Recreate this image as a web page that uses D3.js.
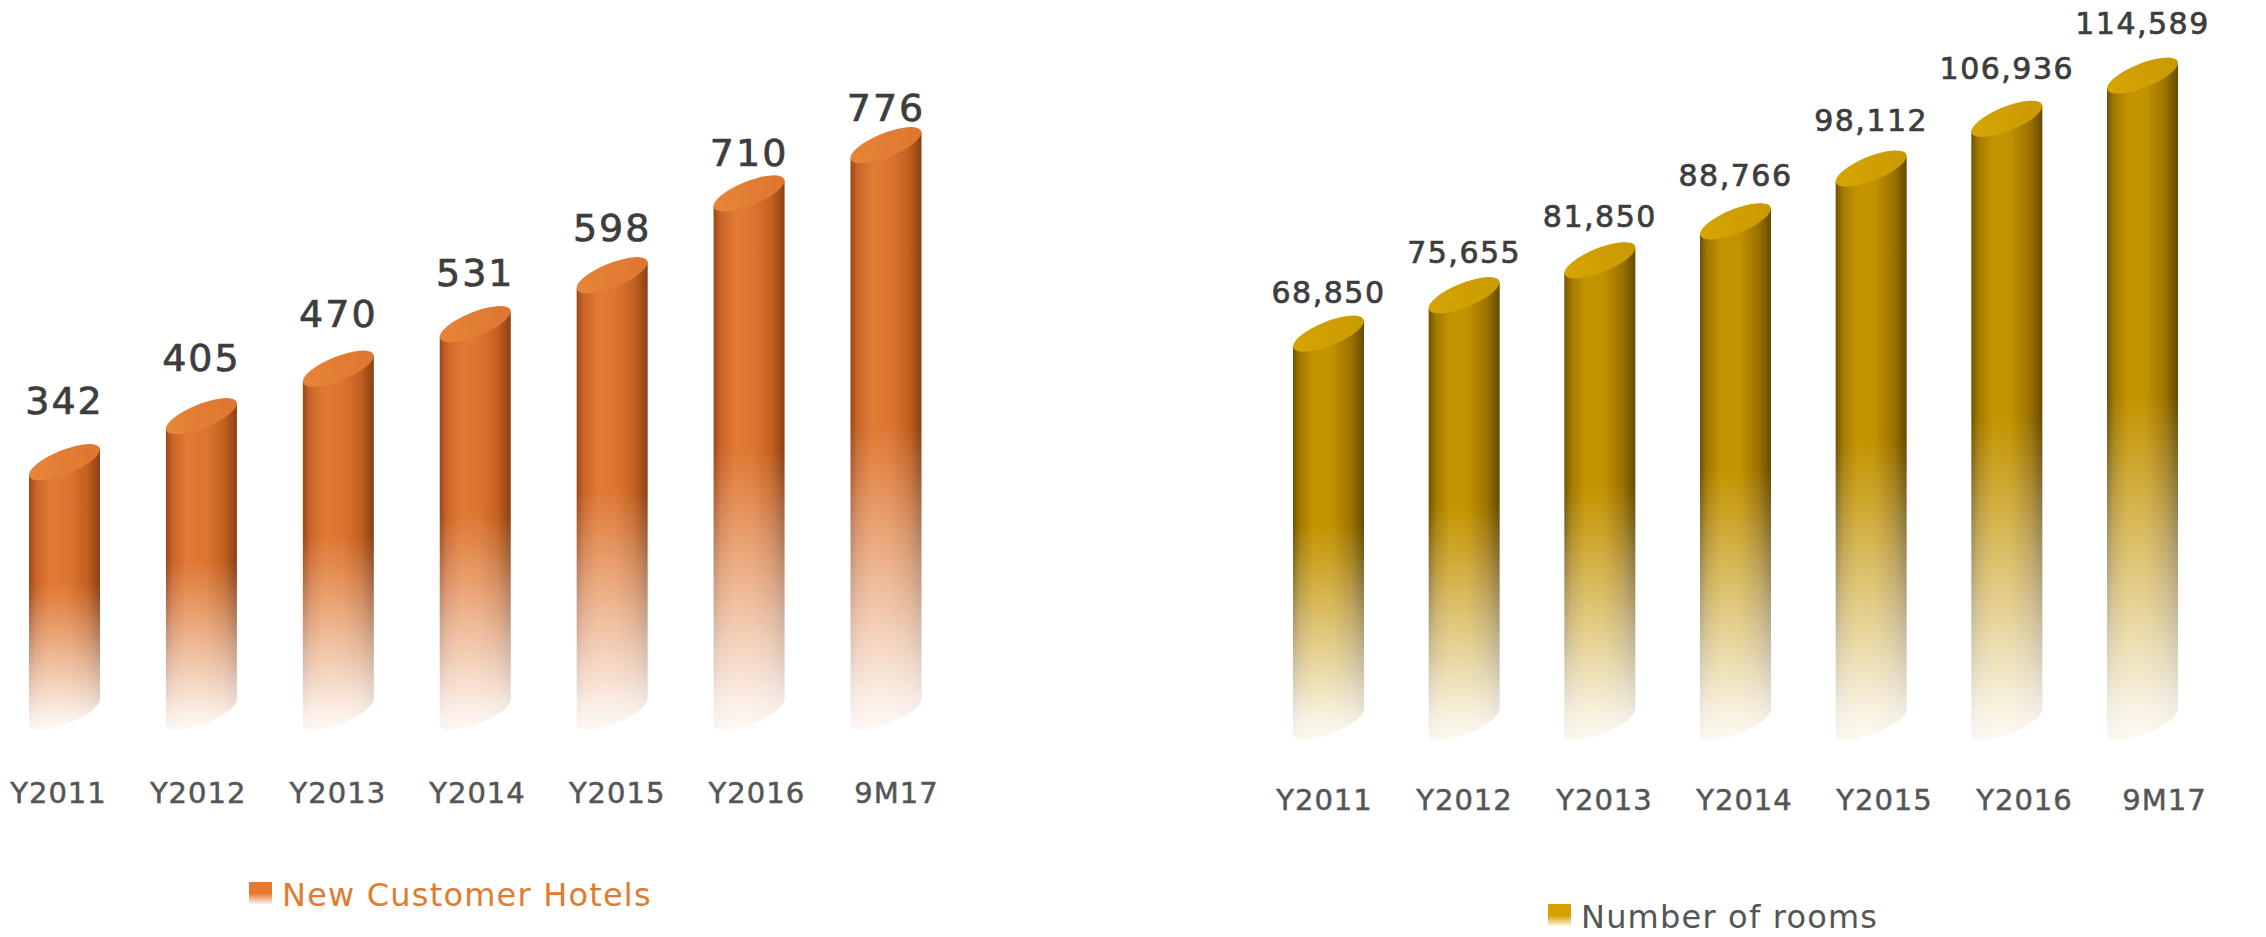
<!DOCTYPE html>
<html>
<head>
<meta charset="utf-8">
<script src="https://cdn.jsdelivr.net/npm/d3@7"></script>
<style>
  html, body { margin: 0; padding: 0; background: #ffffff; }
  svg { display: block; }
  text { font-family: "DejaVu Sans", sans-serif; }
</style>
</head>
<body>
<svg id="chart" width="2266" height="937"></svg>
<script>
// ---- data ----
const categories = ["Y2011", "Y2012", "Y2013", "Y2014", "Y2015", "Y2016", "9M17"];
const hotelValues = [342, 405, 470, 531, 598, 710, 776];
const roomValues = [68850, 75655, 81850, 88766, 98112, 106936, 114589];
const hotelSeriesName = "New Customer Hotels";
const roomSeriesName = "Number of rooms";

const svg = d3.select("#chart");
const defs = svg.append("defs");

// fade mask (vertical, object bounding box)
const fg = defs.append("linearGradient").attr("id", "fadeGrad")
  .attr("x1", 0).attr("y1", 0).attr("x2", 0).attr("y2", 1);
[[0, 1], [0.5, 1], [0.58, 0.86], [0.7, 0.62], [0.85, 0.32], [0.95, 0.12], [1, 0.05]].forEach(([o, v]) => {
  fg.append("stop").attr("offset", o).attr("stop-color", "white").attr("stop-opacity", v);
});
defs.append("mask").attr("id", "fadeMask")
  .attr("maskContentUnits", "objectBoundingBox")
  .append("rect").attr("width", 1).attr("height", 1).attr("fill", "url(#fadeGrad)");

function bodyGradient(id, stops) {
  const g = defs.append("linearGradient").attr("id", id)
    .attr("x1", 0).attr("y1", 0).attr("x2", 1).attr("y2", 0);
  stops.forEach(([o, c]) => g.append("stop").attr("offset", o).attr("stop-color", c));
}
bodyGradient("orangeBody", [[0, "#9c4818"], [0.1, "#c9652a"], [0.3, "#e07a34"], [0.55, "#de7632"], [0.82, "#c2601f"], [1, "#8a3f14"]]);
bodyGradient("goldBody", [[0, "#6f5200"], [0.1, "#a27900"], [0.3, "#c49400"], [0.55, "#c29200"], [0.82, "#9c7200"], [1, "#664a00"]]);
bodyGradient("orangeTop", [[0, "#e88539"], [1, "#de7530"]]);
bodyGradient("goldTop", [[0, "#d6a405"], [1, "#c99a00"]]);

function legendGradient(id, color) {
  const g = defs.append("linearGradient").attr("id", id)
    .attr("x1", 0).attr("y1", 0).attr("x2", 0).attr("y2", 1);
  g.append("stop").attr("offset", 0).attr("stop-color", color);
  g.append("stop").attr("offset", 0.5).attr("stop-color", color);
  g.append("stop").attr("offset", 1).attr("stop-color", "#ffffff");
}
legendGradient("orangeLegend", "#e57a30");
legendGradient("goldLegend", "#d6a000");

const phi = -22; // tilt of the cylinder tops (degrees)

function drawChart(opt) {
  const g = svg.append("g");
  const x = d3.scalePoint().domain(opt.cats).range(opt.barRange);
  const y = d3.scaleLinear().domain(opt.domain).range([opt.base, opt.top]);
  const yLab = d3.scaleLinear().domain(opt.domain).range(opt.labelRange);
  const w = opt.barWidth;
  const rx = w * 0.535, ry = w * 0.17;
  const p = phi * Math.PI / 180;
  const ex = Math.sqrt(rx * rx * Math.cos(p) ** 2 + ry * ry * Math.sin(p) ** 2);
  const dyR = (rx * rx - ry * ry) * Math.sin(p) * Math.cos(p) / ex; // negative: right side higher

  const bars = g.selectAll("g.bar").data(opt.vals).join("g")
    .attr("class", "bar")
    .attr("mask", "url(#fadeMask)");

  bars.append("path")
    .attr("d", (d, i) => {
      const cx = x(opt.cats[i]);
      const t = y(d), b = y(0);
      return `M${cx - ex},${t - dyR} L${cx - ex},${b - dyR} ` +
        `A${rx},${ry} ${phi} 0 0 ${cx + ex},${b + dyR} ` +
        `L${cx + ex},${t + dyR} Z`;
    })
    .attr("fill", `url(#${opt.bodyGrad})`);

  bars.append("ellipse")
    .attr("cx", (d, i) => x(opt.cats[i]))
    .attr("cy", d => y(d))
    .attr("rx", rx).attr("ry", ry)
    .attr("transform", (d, i) => `rotate(${phi} ${x(opt.cats[i])} ${y(d)})`)
    .attr("fill", `url(#${opt.topGrad})`);

  // value labels
  g.selectAll("text.val").data(opt.vals).join("text")
    .attr("class", "val")
    .attr("x", (d, i) => x(opt.cats[i]))
    .attr("y", d => yLab(d))
    .attr("dy", "0.36em")
    .attr("text-anchor", "middle")
    .attr("font-size", opt.valFont)
    .attr("letter-spacing", opt.valSpacing)
    .attr("fill", "#3d3d3d")
    .attr("stroke", "#3d3d3d")
    .attr("stroke-width", 0.7)
    .text(d => opt.fmt(d));

  // category axis
  const xa = d3.scalePoint().domain(opt.cats).range(opt.catRange);
  const ax = g.append("g")
    .attr("transform", `translate(0,${opt.catY})`)
    .call(d3.axisBottom(xa).tickSize(0).tickPadding(0));
  ax.select(".domain").remove();
  ax.selectAll("text")
    .attr("dy", "0.36em")
    .attr("font-size", 29)
    .attr("letter-spacing", 1)
    .attr("font-family", "DejaVu Sans, sans-serif")
    .attr("fill", "#555555")
    .attr("stroke", "#555555")
    .attr("stroke-width", 0.5);

  // legend
  const lg = g.append("g").attr("transform", `translate(${opt.legendX},${opt.legendY})`);
  lg.append("rect").attr("x", 0).attr("y", -12).attr("width", 23).attr("height", 23)
    .attr("fill", `url(#${opt.legendGrad})`);
  lg.append("text").attr("x", 33).attr("y", 0).attr("dy", "0.36em")
    .attr("font-size", 32).attr("letter-spacing", 1.2)
    .attr("fill", opt.legendColor)
    .text(opt.name);
}

drawChart({
  cats: categories, vals: hotelValues, name: hotelSeriesName,
  barRange: [64.5, 886], barWidth: 71,
  domain: [0, 800], base: 712, top: 712 - 0.7304 * 800,
  labelRange: [630, 630 - 0.673 * 800],
  valFont: 38, valSpacing: 2, fmt: d3.format("d"),
  catRange: [58, 896], catY: 793,
  bodyGrad: "orangeBody", topGrad: "orangeTop", legendGrad: "orangeLegend",
  legendX: 249, legendY: 894, legendColor: "#e07b30"
});

drawChart({
  cats: categories, vals: roomValues, name: roomSeriesName,
  barRange: [1328.5, 2142.5], barWidth: 71,
  domain: [0, 120000], base: 722, top: 722 - 0.005641 * 120000,
  labelRange: [697, 697 - 0.00588 * 120000],
  valFont: 30, valSpacing: 1.5, fmt: d3.format(","),
  catRange: [1324, 2164], catY: 800,
  bodyGrad: "goldBody", topGrad: "goldTop", legendGrad: "goldLegend",
  legendX: 1548, legendY: 916, legendColor: "#555555"
});
</script>
</body>
</html>
